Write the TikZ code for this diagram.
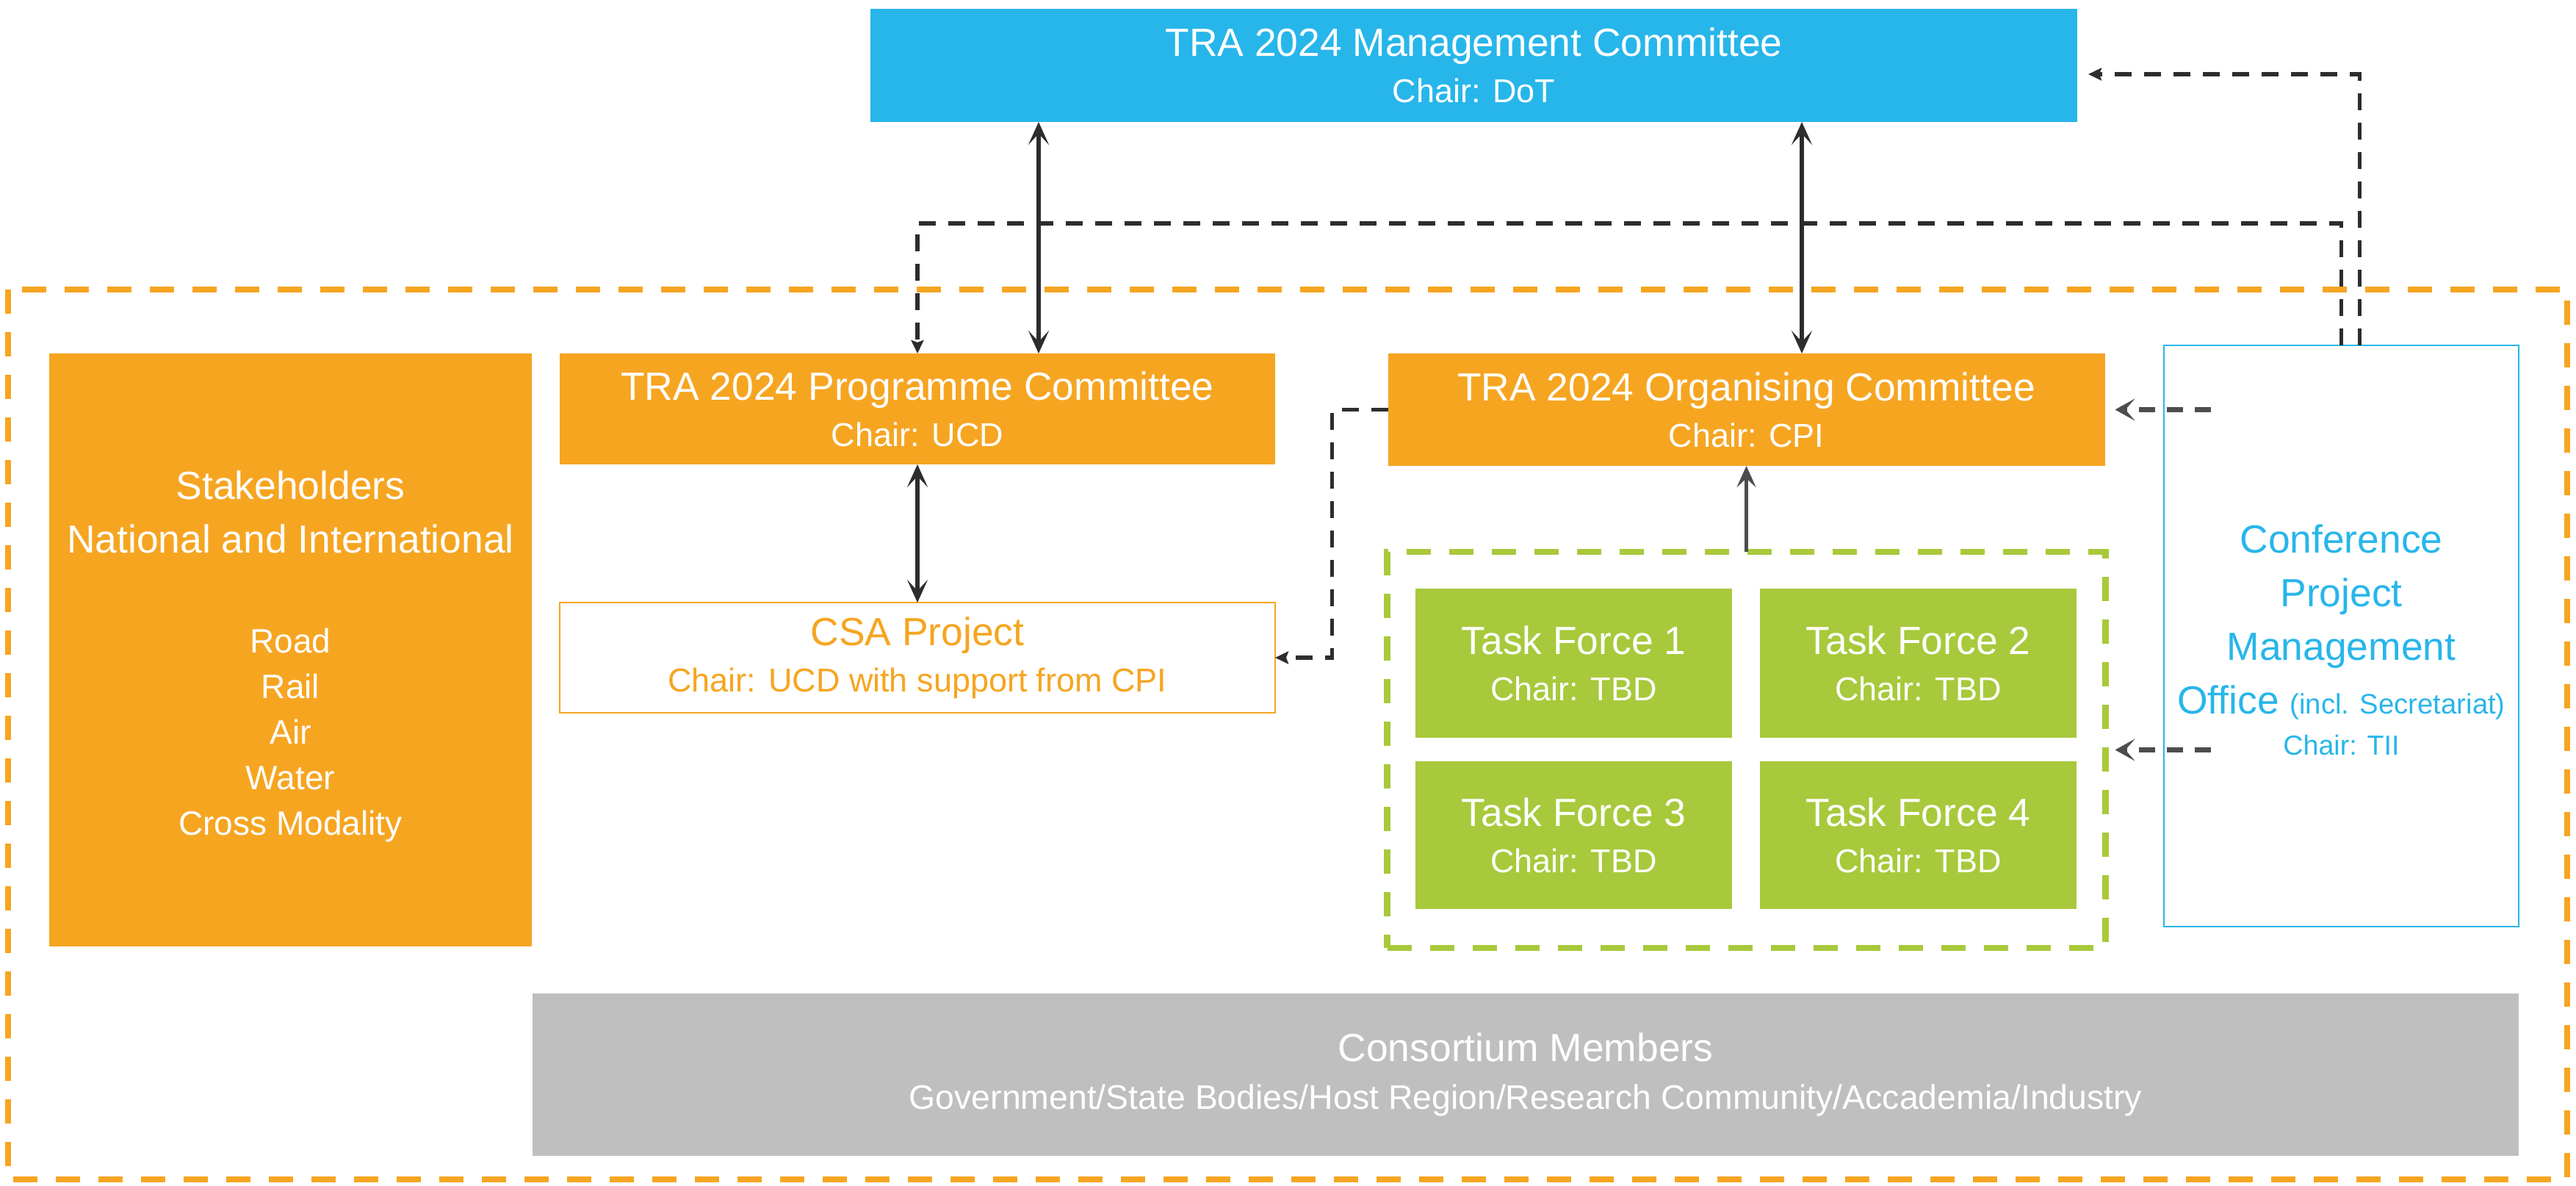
\documentclass[tikz,border=0pt]{standalone}
\usepackage{fontspec}
\setmainfont{Liberation Sans}
\usetikzlibrary{arrows.meta}

\definecolor{mblue}{HTML}{27B6EA}
\definecolor{morange}{HTML}{F6A521}
\definecolor{mgreen}{HTML}{A8C93B}
\definecolor{mgrey}{HTML}{BFBFBF}
\definecolor{mdark}{HTML}{2D2D2F}
\definecolor{marrow}{HTML}{4D4D4D}

\newcommand{\chairfont}{\fontsize{12.8}{18}\selectfont}
\newcommand{\modefont}{\fontsize{13.1}{17.7}\selectfont}

\begin{document}
\begin{tikzpicture}[
  box/.style={inner sep=0pt, outer sep=0pt, align=center, text=white, font=\fontsize{15.2}{18}\selectfont},
  dbl/.style={{Stealth[length=3.1mm,width=2.8mm,inset=1.5mm]}-{Stealth[length=3.1mm,width=2.8mm,inset=1.5mm]}, line width=1.6pt, draw=mdark},
  blkdash/.style={-{Stealth[length=1.8mm,width=1.7mm,inset=0.3mm]}, line width=1.5pt, draw=mdark, dash pattern=on 0.23cm off 0.17cm},
  grydash/.style={-{Stealth[length=2.7mm,width=3mm,inset=1.3mm]}, line width=1.9pt, draw=marrow, dash pattern=on 0.22cm off 0.16cm},
  frame/.style={line width=0.085cm, dash pattern=on 0.33cm off 0.25cm}
]
\useasboundingbox (0,0) rectangle (35.07,-16.13);

% outer frame
\draw[frame, draw=morange] (0.11,-3.94) rectangle (34.95,-16.05);

\node[box, fill=mblue, minimum width=16.43cm, minimum height=1.54cm] (mgmt) at (20.065,-0.89)
{TRA 2024 Management Committee\\{\chairfont Chair: DoT}};

\node[box, fill=morange, minimum width=6.57cm, minimum height=8.07cm, font=\modefont] (stake) at (3.955,-8.845)
{{\fontsize{15.2}{18}\selectfont\rule{0pt}{16.2pt}Stakeholders}\\[3pt]{\fontsize{15.2}{18}\selectfont National and International}\\[20.9pt]Road\\Rail\\Air\\Water\\Cross Modality};

\node[box, fill=morange, minimum width=9.74cm, minimum height=1.51cm] (prog) at (12.49,-5.565)
{TRA 2024 Programme Committee\\{\chairfont Chair: UCD}};

\node[box, fill=morange, minimum width=9.76cm, minimum height=1.53cm] (org) at (23.775,-5.575)
{TRA 2024 Organising Committee\\{\chairfont Chair: CPI}};

\node[box, fill=white, draw=morange, line width=0.8pt, text=morange, minimum width=9.74cm, minimum height=1.50cm] (csa) at (12.49,-8.95)
{CSA Project\\{\chairfont Chair: UCD with support from CPI}};

% task forces
\node[frame, draw=mgreen, inner sep=0pt, outer sep=0pt, minimum width=9.78cm, minimum height=5.39cm] (tfbox) at (23.775,-10.205) {};

\node[box, fill=mgreen, minimum width=4.31cm, minimum height=2.03cm] (tf1) at (21.425,-9.025)
{Task Force 1\\{\chairfont Chair: TBD}};

\node[box, fill=mgreen, minimum width=4.31cm, minimum height=2.03cm] (tf2) at (26.115,-9.025)
{Task Force 2\\{\chairfont Chair: TBD}};

\node[box, fill=mgreen, minimum width=4.31cm, minimum height=2.01cm] (tf3) at (21.425,-11.365)
{Task Force 3\\{\chairfont Chair: TBD}};

\node[box, fill=mgreen, minimum width=4.31cm, minimum height=2.01cm] (tf4) at (26.115,-11.365)
{Task Force 4\\{\chairfont Chair: TBD}};

\node[box, fill=white, draw=mblue, line width=0.8pt, text=mblue, minimum width=4.83cm, minimum height=7.91cm, font=\fontsize{15.2}{15.9}\selectfont] (cpmo) at (31.875,-8.655)
{\rule{0pt}{14pt}Conference\\[4.8pt]Project\\[4.8pt]Management\\[4.8pt]Office {\fontsize{10.9}{13}\selectfont(incl. Secretariat)}\\{\fontsize{10.7}{13}\selectfont Chair: TII}};

\node[box, fill=mgrey, minimum width=27.04cm, minimum height=2.21cm, font=\fontsize{15.2}{18.7}\selectfont] (cons) at (20.77,-14.625)
{Consortium Members\\{\fontsize{13.2}{18.7}\selectfont Government/State Bodies/Host Region/Research Community/Accademia/Industry}};

% connectors
\coordinate (pcol) at (14.14,0);
\coordinate (ocol) at (24.53,0);
\coordinate (cpin) at ([xshift=0.64cm]cpmo.west);

\draw[dbl] (mgmt.south -| pcol) -- (prog.north -| pcol);

\draw[dbl] (mgmt.south -| ocol) -- (org.north -| ocol);

\draw[dbl] (prog.south) -- (csa.north);

\draw[blkdash] (org.west) -- ++(-0.76,0) |- (csa.east);

\draw[-{Stealth[length=2.9mm,width=2.6mm,inset=1.2mm]}, line width=1.5pt, draw=marrow] (tfbox.north) -- (org.south);

\draw[blkdash] (cpmo.north) -- ++(0,1.66) -| (prog.north);

\draw[blkdash] ([xshift=0.25cm]cpmo.north) |- ([xshift=0.15cm,yshift=-0.12cm]mgmt.east);

\draw[grydash] (cpin |- org.east) -- ([xshift=0.14cm]org.east);

\draw[grydash] (cpin |- tfbox.east) -- ([xshift=0.13cm]tfbox.east);
\end{tikzpicture}
\end{document}
